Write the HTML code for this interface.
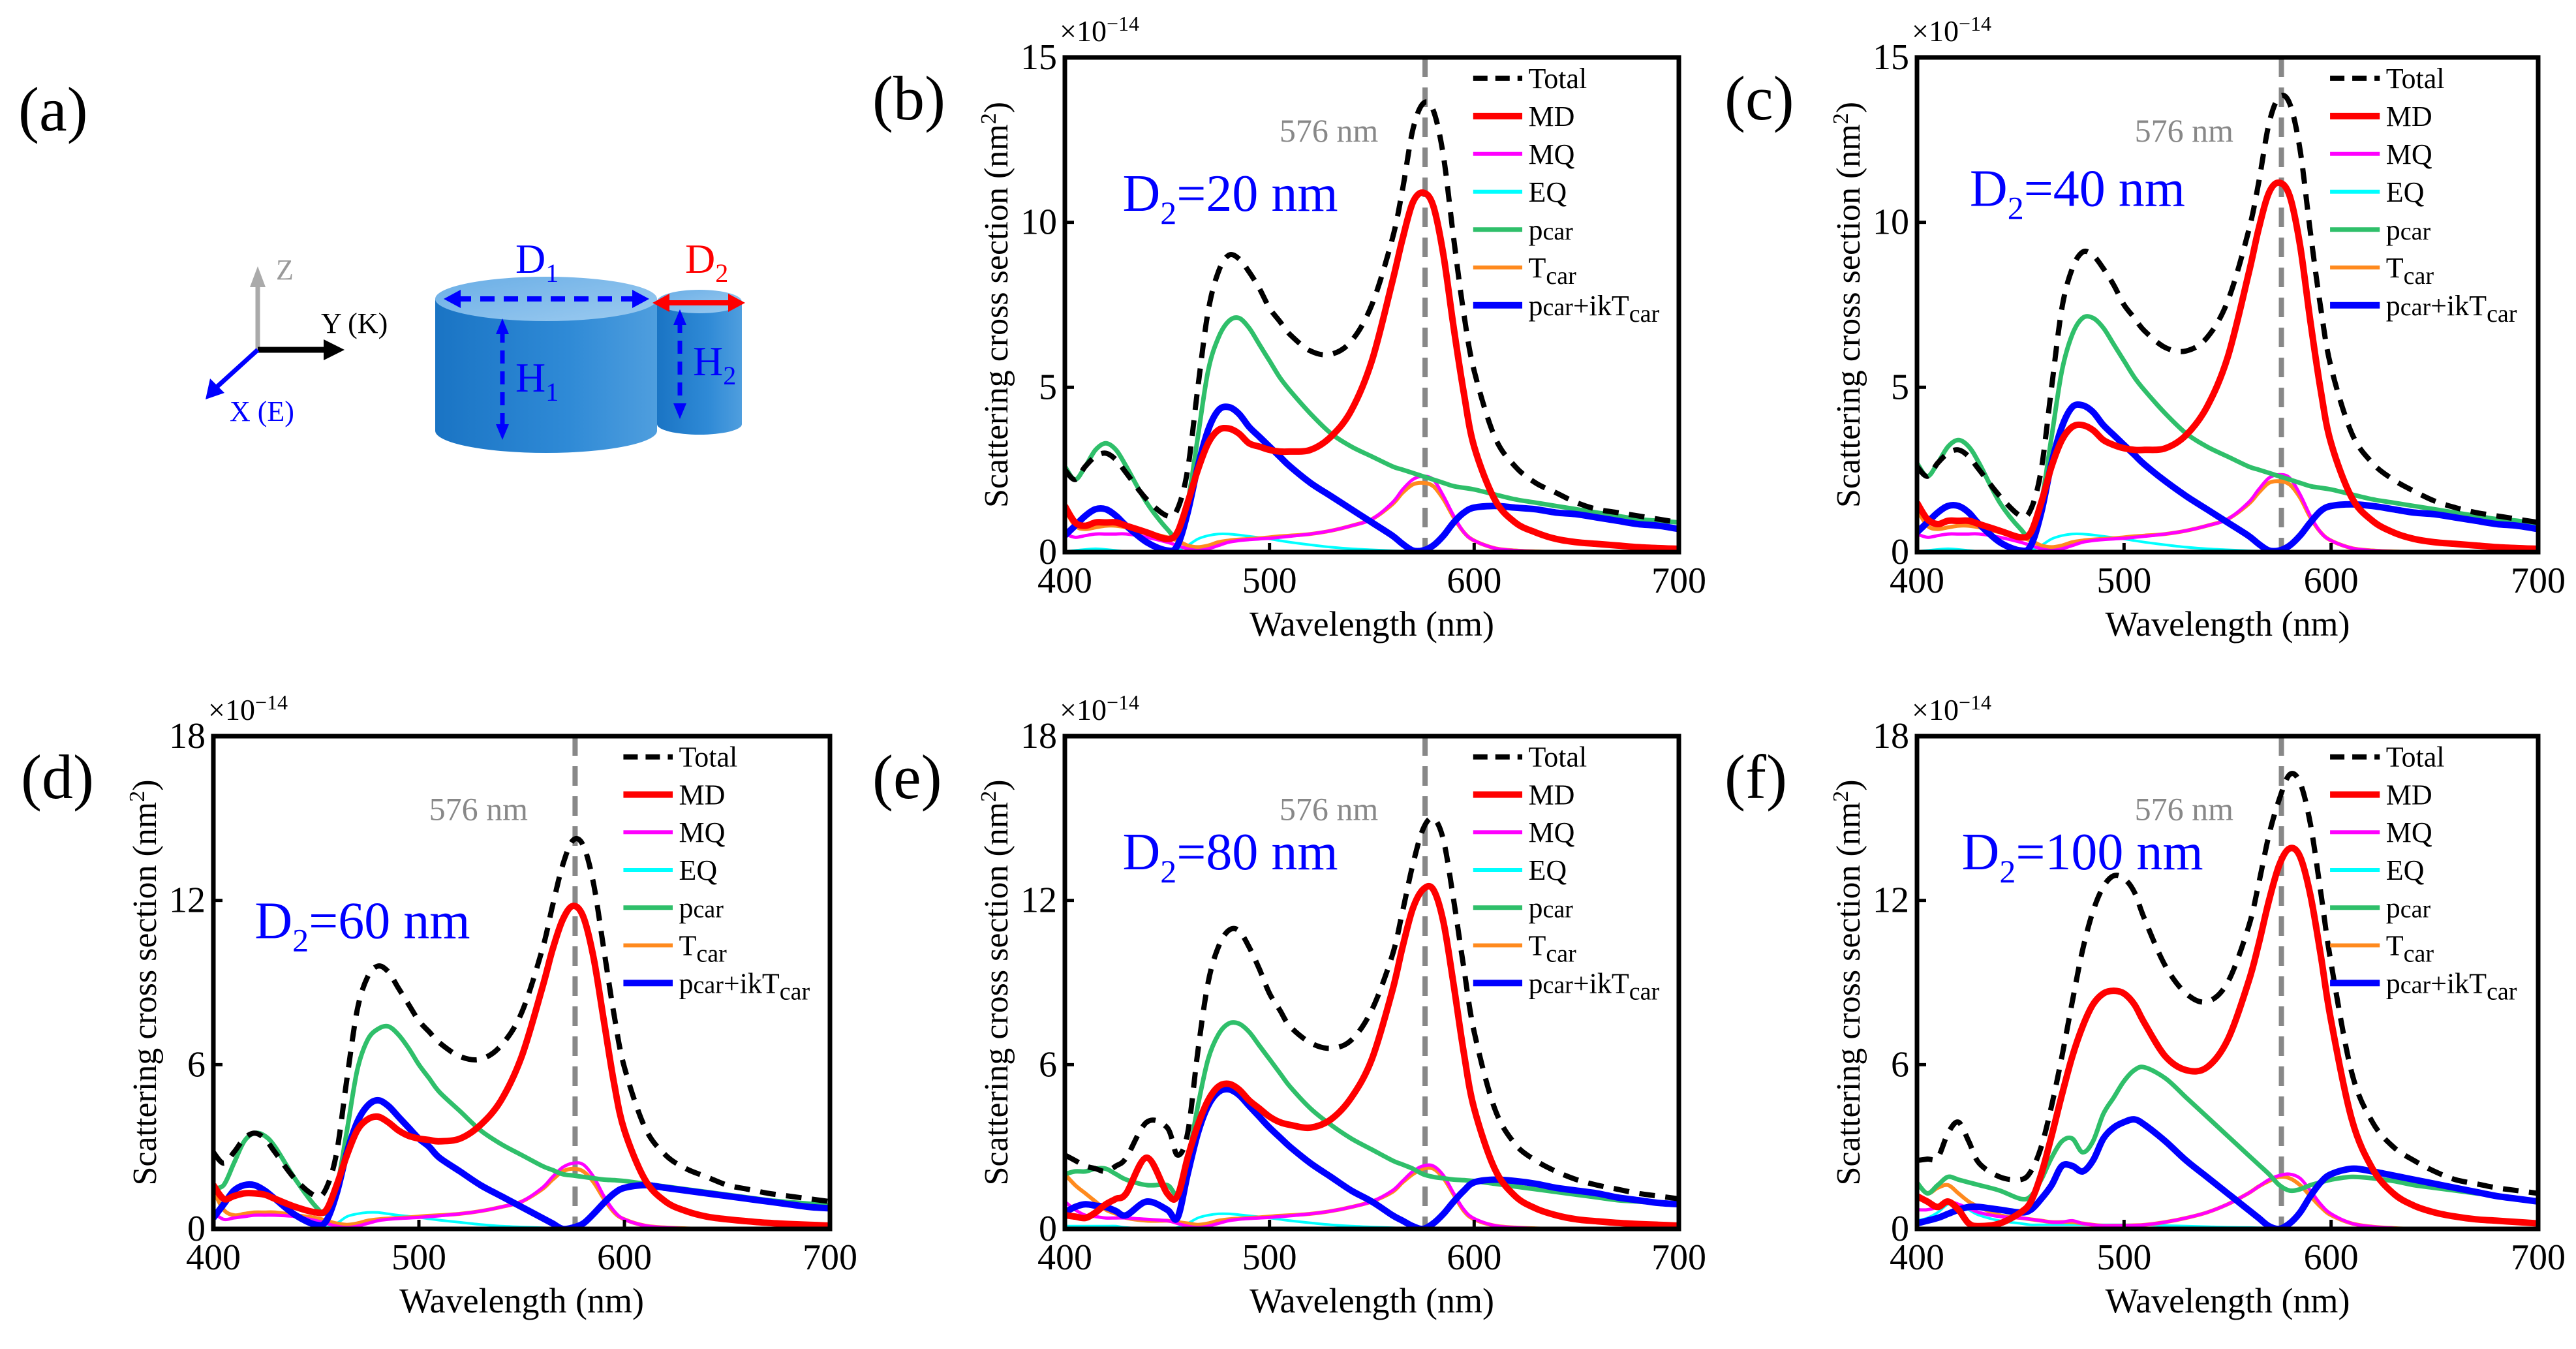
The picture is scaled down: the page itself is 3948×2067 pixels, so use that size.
<!DOCTYPE html>
<html><head><meta charset="utf-8"><style>
html,body{margin:0;padding:0;background:#fff}
svg{display:block}
svg text{font-family:"Liberation Serif","Times New Roman",serif}
</style></head><body>
<svg id="fig" xmlns="http://www.w3.org/2000/svg" width="3948" height="2067" viewBox="0 0 3948 2067" font-family="Liberation Serif, serif">
<defs>
<linearGradient id="cylg" x1="0" x2="1" y1="0" y2="0"><stop offset="0" stop-color="#1a74c4"/><stop offset="0.6" stop-color="#2f8ad6"/><stop offset="1" stop-color="#4f9ede"/></linearGradient>
<linearGradient id="topg" x1="0" x2="1" y1="0" y2="1"><stop offset="0" stop-color="#6aaee6"/><stop offset="1" stop-color="#9ccbf0"/></linearGradient>
</defs>
<g id="panelA">
<text x="28" y="200" font-size="96">(a)</text>
<line x1="395" y1="536" x2="395" y2="430" stroke="#aaa" stroke-width="7"/>
<polygon points="395,408 383,440 407,440" fill="#aaa"/>
<text x="423" y="428" font-size="44" fill="#999">Z</text>
<line x1="395" y1="536" x2="505" y2="536" stroke="#000" stroke-width="9"/>
<polygon points="528,536 496,520 496,552" fill="#000"/>
<text x="492" y="510" font-size="44">Y (K)</text>
<line x1="395" y1="536" x2="330" y2="595" stroke="#0000ff" stroke-width="7"/>
<polygon points="315,612 322,580 344,602" fill="#0000ff"/>
<text x="352" y="645" font-size="44" fill="#0000ff">X (E)</text>
<g>
<path d="M667,458 L667,660 A170,34 0 0 0 1007,660 L1007,458 Z" fill="url(#cylg)"/>
<ellipse cx="837" cy="458" rx="170" ry="34" fill="url(#topg)"/>
</g>
<g>
<path d="M1007,462 L1007,650 A65,16 0 0 0 1137,650 L1137,462 Z" fill="url(#cylg)"/>
<ellipse cx="1072" cy="462" rx="65" ry="18" fill="url(#topg)"/>
</g>
<line x1="700" y1="458" x2="975" y2="458" stroke="#0000ff" stroke-width="8" stroke-dasharray="22,14"/>
<polygon points="680,458 706,444 706,472" fill="#0000ff"/><polygon points="995,458 969,444 969,472" fill="#0000ff"/>
<line x1="1020" y1="464" x2="1125" y2="464" stroke="#ff0000" stroke-width="8"/>
<polygon points="1000,464 1026,450 1026,478" fill="#ff0000"/><polygon points="1142,464 1116,450 1116,478" fill="#ff0000"/>
<text x="790" y="418" font-size="64" fill="#0000ff">D<tspan font-size="40" dy="14">1</tspan></text>
<text x="1050" y="418" font-size="64" fill="#ff0000">D<tspan font-size="40" dy="14">2</tspan></text>
<line x1="770" y1="505" x2="770" y2="655" stroke="#0000ff" stroke-width="7" stroke-dasharray="20,12"/>
<polygon points="770,488 760,512 780,512" fill="#0000ff"/><polygon points="770,674 760,650 780,650" fill="#0000ff"/>
<text x="790" y="600" font-size="64" fill="#0000ff">H<tspan font-size="40" dy="14">1</tspan></text>
<line x1="1042" y1="490" x2="1042" y2="625" stroke="#0000ff" stroke-width="7" stroke-dasharray="20,12"/>
<polygon points="1042,474 1032,498 1052,498" fill="#0000ff"/><polygon points="1042,642 1032,618 1052,618" fill="#0000ff"/>
<text x="1062" y="575" font-size="64" fill="#0000ff">H<tspan font-size="40" dy="14">2</tspan></text>
</g>
</svg>
<script>
const wl=[400,405,410,415,420,425,430,440,450,455,460,465,470,475,480,485,490,495,500,505,510,520,530,540,550,560,565,570,575,580,585,590,595,600,610,620,630,640,650,660,670,680,690,700];
const xTicks=[400,500,600,700];
const yTicksTop=[0,5,10,15];
const yTicksBottom=[0,6,12,18];
const legendLabels=["Total","MD","MQ","EQ","pcar","Tcar","pcar+ikTcar"];

const tot_b=[2.5,2.2,2.6,2.9,3.0,2.8,2.4,1.6,1.1,1.3,2.5,5.0,7.3,8.5,9.0,8.9,8.5,8.0,7.4,7.0,6.6,6.1,6.0,6.4,7.5,9.5,11.0,12.8,13.6,13.4,12.0,9.5,7.2,5.5,3.5,2.6,2.1,1.8,1.5,1.3,1.2,1.1,1.0,0.9];
const md_b=[1.4,0.9,0.8,0.9,0.9,0.9,0.8,0.6,0.4,0.6,1.5,2.5,3.3,3.7,3.75,3.6,3.3,3.2,3.1,3.05,3.05,3.1,3.5,4.3,5.8,8.2,9.5,10.6,10.9,10.5,9.0,6.8,4.8,3.2,1.6,0.9,0.6,0.4,0.3,0.25,0.2,0.15,0.12,0.1];
const mq_b=[0.55,0.45,0.5,0.55,0.55,0.55,0.55,0.45,0.3,0.2,0.1,0.05,0.1,0.2,0.3,0.35,0.38,0.4,0.42,0.45,0.48,0.55,0.65,0.8,1.0,1.5,1.9,2.2,2.3,2.2,1.7,1.1,0.6,0.35,0.12,0.05,0.02,0,0,0,0,0,0,0];
const eq_b=[0.02,0.05,0.08,0.1,0.08,0.05,0.02,0,0,0.05,0.2,0.4,0.5,0.55,0.55,0.52,0.48,0.44,0.4,0.35,0.3,0.22,0.15,0.1,0.07,0.04,0.03,0.02,0.02,0.02,0.02,0.02,0.02,0.02,0.01,0.01,0,0,0,0,0,0,0,0];
const pc_b=[2.6,2.2,2.6,3.1,3.3,3.1,2.6,1.5,0.7,0.5,1.5,3.5,5.5,6.5,7.0,7.1,6.8,6.3,5.8,5.3,4.9,4.2,3.6,3.2,2.9,2.6,2.5,2.4,2.3,2.2,2.1,2.0,1.95,1.9,1.75,1.6,1.5,1.4,1.3,1.2,1.1,1.0,0.95,0.9];
const tc_b=[1.3,0.8,0.7,0.75,0.8,0.8,0.75,0.6,0.45,0.35,0.2,0.15,0.2,0.3,0.35,0.38,0.4,0.42,0.45,0.48,0.5,0.55,0.65,0.8,1.0,1.45,1.8,2.05,2.1,2.0,1.6,1.05,0.6,0.35,0.12,0.05,0.02,0,0,0,0,0,0,0];
const bl_b=[0.5,0.8,1.1,1.3,1.3,1.1,0.8,0.3,0.05,0.2,1.2,2.6,3.7,4.3,4.4,4.2,3.8,3.5,3.2,2.9,2.6,2.1,1.7,1.3,0.9,0.5,0.25,0.05,0.05,0.2,0.5,0.9,1.2,1.35,1.4,1.35,1.3,1.2,1.15,1.05,0.95,0.85,0.8,0.7];

const tot_c=[2.6,2.3,2.7,3.0,3.1,2.9,2.5,1.7,1.1,1.3,2.5,5.0,7.4,8.6,9.1,9.0,8.6,8.1,7.5,7.1,6.7,6.2,6.1,6.5,7.6,9.7,11.2,13.0,13.8,13.6,12.2,9.7,7.4,5.6,3.6,2.7,2.2,1.85,1.55,1.35,1.2,1.1,1.0,0.9];
const md_c=[1.5,1.0,0.85,0.95,0.95,0.95,0.85,0.65,0.45,0.6,1.5,2.6,3.4,3.8,3.85,3.7,3.4,3.25,3.15,3.1,3.1,3.15,3.55,4.4,5.9,8.4,9.8,10.9,11.2,10.8,9.3,7.0,4.9,3.3,1.65,0.95,0.6,0.4,0.3,0.25,0.2,0.15,0.12,0.1];
const mq_c=[0.55,0.45,0.5,0.55,0.55,0.55,0.55,0.45,0.3,0.2,0.1,0.05,0.1,0.2,0.3,0.35,0.38,0.4,0.42,0.45,0.48,0.55,0.65,0.8,1.0,1.5,1.9,2.25,2.35,2.25,1.75,1.1,0.6,0.35,0.12,0.05,0.02,0,0,0,0,0,0,0];
const eq_c=[0.02,0.05,0.08,0.1,0.08,0.05,0.02,0,0,0.05,0.2,0.4,0.5,0.55,0.55,0.52,0.48,0.44,0.4,0.35,0.3,0.22,0.15,0.1,0.07,0.04,0.03,0.02,0.02,0.02,0.02,0.02,0.02,0.02,0.01,0.01,0,0,0,0,0,0,0,0];
const pc_c=[2.7,2.3,2.7,3.2,3.4,3.2,2.7,1.5,0.7,0.5,1.5,3.5,5.5,6.6,7.1,7.1,6.8,6.3,5.8,5.3,4.9,4.2,3.6,3.2,2.9,2.6,2.5,2.4,2.3,2.2,2.1,2.0,1.95,1.9,1.75,1.6,1.5,1.4,1.3,1.2,1.1,1.0,0.95,0.85];
const tc_c=[1.3,0.8,0.7,0.75,0.8,0.8,0.75,0.6,0.45,0.35,0.2,0.15,0.2,0.3,0.35,0.38,0.4,0.42,0.45,0.48,0.5,0.55,0.65,0.8,1.0,1.45,1.8,2.1,2.15,2.05,1.65,1.05,0.6,0.35,0.12,0.05,0.02,0,0,0,0,0,0,0];
const bl_c=[0.6,0.9,1.2,1.4,1.4,1.2,0.85,0.3,0.05,0.2,1.2,2.7,3.8,4.4,4.45,4.25,3.85,3.55,3.25,2.95,2.65,2.15,1.7,1.3,0.9,0.5,0.25,0.05,0.05,0.2,0.5,0.9,1.25,1.4,1.45,1.4,1.3,1.2,1.15,1.05,0.95,0.85,0.8,0.7];

const tot_d=[2.8,2.4,2.8,3.3,3.5,3.3,2.8,1.8,1.2,1.5,2.8,5.5,8.0,9.2,9.6,9.4,8.8,8.2,7.6,7.2,6.8,6.3,6.2,6.7,7.9,10.2,11.8,13.3,14.2,14.0,12.6,10.2,7.8,5.9,3.7,2.7,2.2,1.9,1.6,1.45,1.3,1.2,1.1,1.0];
const md_d=[1.6,1.1,1.2,1.3,1.3,1.25,1.1,0.8,0.6,0.7,1.6,2.7,3.6,4.0,4.1,3.9,3.6,3.4,3.3,3.25,3.2,3.3,3.8,4.7,6.3,8.8,10.2,11.3,11.8,11.4,9.9,7.6,5.3,3.6,1.8,1.0,0.65,0.45,0.35,0.28,0.22,0.18,0.15,0.12];
const mq_d=[0.6,0.35,0.4,0.45,0.5,0.5,0.5,0.45,0.3,0.2,0.1,0.05,0.1,0.2,0.3,0.35,0.38,0.4,0.42,0.45,0.48,0.55,0.65,0.8,1.0,1.5,1.9,2.25,2.4,2.35,1.9,1.2,0.65,0.35,0.12,0.05,0.02,0,0,0,0,0,0,0];
const eq_d=[0,0,0,0,0,0,0,0,0,0.05,0.2,0.45,0.55,0.6,0.6,0.55,0.5,0.46,0.42,0.37,0.32,0.24,0.16,0.1,0.07,0.04,0.03,0.02,0.02,0.02,0.02,0.02,0.02,0.02,0.01,0.01,0,0,0,0,0,0,0,0];
const pc_d=[1.5,1.6,2.4,3.2,3.5,3.4,3.0,1.8,0.8,0.6,1.5,3.6,5.8,6.9,7.3,7.4,7.1,6.6,6.0,5.5,5.0,4.3,3.6,3.1,2.7,2.3,2.15,2.0,1.95,1.9,1.85,1.8,1.78,1.75,1.65,1.55,1.45,1.35,1.25,1.15,1.05,0.98,0.92,0.85];
const tc_d=[1.4,0.7,0.5,0.55,0.6,0.6,0.6,0.5,0.4,0.3,0.2,0.15,0.2,0.3,0.35,0.38,0.4,0.42,0.45,0.48,0.5,0.55,0.65,0.8,1.0,1.45,1.8,2.1,2.2,2.1,1.7,1.1,0.6,0.35,0.12,0.05,0.02,0,0,0,0,0,0,0];
const bl_d=[0.4,0.9,1.4,1.6,1.6,1.4,1.1,0.5,0.15,0.3,1.3,2.8,3.9,4.5,4.7,4.5,4.1,3.7,3.3,3.0,2.6,2.1,1.6,1.2,0.8,0.4,0.2,0.0,0.05,0.2,0.55,0.95,1.3,1.5,1.6,1.5,1.4,1.3,1.2,1.1,1.0,0.9,0.8,0.75];

const tot_e=[2.7,2.5,2.3,2.2,2.1,2.3,2.6,3.9,3.7,2.7,3.5,6.5,9.0,10.3,10.9,10.9,10.3,9.5,8.6,8.0,7.4,6.8,6.6,6.9,8.0,10.0,11.6,13.3,14.6,15.0,14.2,12.0,9.5,7.2,4.4,3.1,2.5,2.1,1.8,1.6,1.45,1.3,1.2,1.1];
const md_e=[0.5,0.45,0.4,0.6,0.9,1.1,1.3,2.6,1.3,1.2,2.6,3.8,4.7,5.2,5.3,5.1,4.7,4.4,4.1,3.9,3.8,3.7,4.0,4.8,6.2,8.7,10.3,11.7,12.4,12.4,11.2,8.9,6.4,4.4,2.2,1.2,0.75,0.5,0.35,0.28,0.22,0.18,0.15,0.12];
const mq_e=[1.0,0.7,0.5,0.45,0.4,0.4,0.4,0.35,0.3,0.2,0.1,0.05,0.1,0.2,0.3,0.35,0.38,0.4,0.42,0.45,0.48,0.55,0.65,0.8,1.0,1.4,1.75,2.1,2.3,2.3,1.95,1.3,0.7,0.38,0.12,0.05,0.02,0,0,0,0,0,0,0];
const eq_e=[0.1,0.1,0.1,0.1,0.1,0.1,0.05,0,0,0.05,0.2,0.4,0.5,0.55,0.55,0.52,0.48,0.44,0.4,0.35,0.3,0.22,0.15,0.1,0.07,0.04,0.03,0.02,0.02,0.02,0.02,0.02,0.02,0.02,0.01,0.01,0,0,0,0,0,0,0,0];
const pc_e=[2.0,2.1,2.1,2.2,2.2,2.0,1.8,1.6,1.6,1.3,2.5,4.5,6.2,7.1,7.5,7.5,7.2,6.7,6.2,5.7,5.2,4.4,3.8,3.3,2.9,2.5,2.35,2.2,2.0,1.9,1.85,1.8,1.78,1.75,1.65,1.55,1.45,1.35,1.25,1.15,1.05,1.0,0.95,0.9];
const tc_e=[2.0,1.6,1.3,1.0,0.7,0.55,0.4,0.3,0.3,0.25,0.2,0.15,0.2,0.3,0.35,0.38,0.4,0.42,0.45,0.48,0.5,0.55,0.65,0.8,1.0,1.35,1.7,2.0,2.2,2.2,1.85,1.25,0.65,0.35,0.12,0.05,0.02,0,0,0,0,0,0,0];
const bl_e=[0.6,0.8,0.9,0.85,0.8,0.65,0.5,1.0,0.7,0.4,2.0,3.5,4.5,5.0,5.1,4.9,4.5,4.1,3.7,3.35,3.0,2.4,1.9,1.4,1.0,0.5,0.3,0.1,0.0,0.2,0.55,1.0,1.4,1.7,1.8,1.75,1.65,1.5,1.4,1.3,1.15,1.05,0.95,0.9];

const tot_f=[2.5,2.55,2.6,3.5,3.9,3.2,2.4,1.9,1.8,2.1,3.0,4.5,6.3,8.3,10.2,11.6,12.5,12.9,12.8,12.3,11.3,9.6,8.6,8.3,9.0,11.0,12.6,14.4,15.7,16.6,16.3,14.8,12.3,9.7,5.7,3.9,3.0,2.5,2.1,1.8,1.65,1.5,1.4,1.3];
const md_f=[1.2,1.0,0.8,1.0,0.7,0.2,0.1,0.2,0.6,1.0,2.0,3.4,4.9,6.3,7.4,8.2,8.6,8.7,8.6,8.2,7.5,6.3,5.8,5.9,6.9,9.0,10.4,12.0,13.3,13.9,13.6,12.2,10.0,7.6,4.0,2.2,1.3,0.85,0.6,0.45,0.35,0.3,0.25,0.2];
const mq_f=[0.7,0.7,0.8,1.0,0.9,0.75,0.6,0.45,0.4,0.35,0.3,0.25,0.25,0.3,0.2,0.15,0.12,0.12,0.12,0.13,0.15,0.25,0.4,0.6,0.9,1.3,1.55,1.8,1.95,2.0,1.85,1.4,0.9,0.55,0.2,0.08,0.03,0,0,0,0,0,0,0];
const eq_f=[0.3,0.4,0.6,0.9,0.9,0.7,0.5,0.3,0.2,0.15,0.15,0.15,0.15,0.15,0.15,0.15,0.15,0.15,0.15,0.15,0.15,0.12,0.1,0.08,0.06,0.05,0.04,0.03,0.03,0.03,0.03,0.03,0.03,0.03,0.02,0.02,0.01,0,0,0,0,0,0,0];
const pc_f=[1.7,1.3,1.6,1.9,1.8,1.7,1.6,1.4,1.1,1.2,1.8,2.6,3.2,3.3,2.8,3.2,4.2,4.8,5.4,5.8,5.9,5.5,4.8,4.1,3.4,2.7,2.35,2.0,1.6,1.4,1.45,1.6,1.7,1.8,1.9,1.85,1.75,1.6,1.5,1.4,1.3,1.2,1.1,1.0];
const tc_f=[1.7,1.3,1.5,1.6,1.3,1.0,0.8,0.5,0.4,0.35,0.3,0.25,0.25,0.25,0.2,0.15,0.12,0.12,0.12,0.13,0.15,0.25,0.4,0.6,0.9,1.3,1.55,1.75,1.9,1.85,1.6,1.2,0.8,0.5,0.2,0.08,0.03,0,0,0,0,0,0,0];
const bl_f=[0.2,0.3,0.4,0.55,0.7,0.8,0.8,0.7,0.6,0.7,1.1,1.6,2.3,2.3,2.1,2.5,3.3,3.7,3.9,4.0,3.8,3.2,2.5,1.9,1.3,0.7,0.4,0.1,0.0,0.2,0.6,1.2,1.7,2.0,2.2,2.1,1.95,1.8,1.65,1.5,1.35,1.2,1.1,1.0];

const NS="http://www.w3.org/2000/svg";
const svg=document.getElementById('fig');
const SERIF='Liberation Serif, Times New Roman, serif';
function mk(tag,attrs,parent){const e=document.createElementNS(NS,tag);for(const k in attrs)e.setAttribute(k,attrs[k]);if(tag==='text')e.setAttribute('font-family',SERIF);(parent||svg).appendChild(e);return e;}
function smoothPath(pts){let d='M'+pts[0][0].toFixed(1)+','+pts[0][1].toFixed(1);
 for(let i=0;i<pts.length-1;i++){const p0=pts[Math.max(0,i-1)],p1=pts[i],p2=pts[i+1],p3=pts[Math.min(pts.length-1,i+2)];
  const c1=[p1[0]+(p2[0]-p0[0])/6,p1[1]+(p2[1]-p0[1])/6],c2=[p2[0]-(p3[0]-p1[0])/6,p2[1]-(p3[1]-p1[1])/6];
  d+=' C'+c1[0].toFixed(1)+','+c1[1].toFixed(1)+' '+c2[0].toFixed(1)+','+c2[1].toFixed(1)+' '+p2[0].toFixed(1)+','+p2[1].toFixed(1);}
 return d;}
const styles=[
 {c:'#000',w:8,dash:'24,16'},{c:'#ff0000',w:10},{c:'#ff00ff',w:5},{c:'#00ffff',w:4},{c:'#2fbf6a',w:7},{c:'#ff8a1e',w:6},{c:'#0000ff',w:10}];
function panel(o){
 const g=mk('g',{});
 
 
 const L=o.x0,R=o.x1,T=o.y0,B=o.y1,ymax=o.yt[o.yt.length-1];
 const X=v=>L+(v-400)/300*(R-L), Y=v=>B-v/ymax*(B-T);
 const lab=mk('text',{x:L-295,y:T+95,'font-size':96},g);lab.textContent='('+o.id+')';
 
 
 const clip=mk('clipPath',{id:'clip'+o.id},g);mk('rect',{x:L,y:T,width:R-L,height:B-T},clip);
 const series=[o.s[0],o.s[1],o.s[2],o.s[3],o.s[4],o.s[5],o.s[6]];
 const order=[3,5,2,4,6,1,0];
 const pg=mk('g',{'clip-path':'url(#clip'+o.id+')'},g);
 const vl=mk('line',{x1:X(576),x2:X(576),y1:T,y2:B,stroke:'#888','stroke-width':8,'stroke-dasharray':'30,16'},pg);
 
 
 order.forEach(i=>{const st=styles[i];const pts=wl.map((w,j)=>[X(w),Y(series[i][j])]);
  const p=mk('path',{d:smoothPath(pts),fill:'none',stroke:st.c,'stroke-width':st.w,'stroke-linejoin':'round'},pg);
  if(st.dash)p.setAttribute('stroke-dasharray',st.dash);
  
  });
 const fr=mk('rect',{x:L,y:T,width:R-L,height:B-T,fill:'none',stroke:'#000','stroke-width':7},g);
 
 
 xTicks.forEach(t=>{mk('line',{x1:X(t),x2:X(t),y1:B,y2:B-14,stroke:'#000','stroke-width':5},g);
  const tx=mk('text',{x:X(t),y:B+62,'font-size':56,'text-anchor':'middle'},g);tx.textContent=t;
  
  });
 o.yt.forEach(t=>{mk('line',{x1:L,x2:L+14,y1:Y(t),y2:Y(t),stroke:'#000','stroke-width':5},g);
  const tx=mk('text',{x:L-12,y:Y(t)+18,'font-size':56,'text-anchor':'end'},g);tx.textContent=t;
  
  });
 const ex=mk('text',{x:L-8,y:T-25,'font-size':46},g);ex.innerHTML='×10<tspan dy="-16" font-size="32">−14</tspan>';
 
 
 const xt=mk('text',{x:(L+R)/2,y:B+128,'font-size':54,'text-anchor':'middle'},g);xt.textContent='Wavelength (nm)';
 
 
 const yt=mk('text',{x:0,y:0,'font-size':52,'text-anchor':'middle',transform:'translate('+(L-88)+','+((T+B)/2)+') rotate(-90)'},g);
 yt.innerHTML='Scattering cross section (nm<tspan dy="-18" font-size="34">2</tspan><tspan dy="18">)</tspan>';
 
 
 const nm=mk('text',{x:L+o.nmx*(R-L),y:T+0.17*(B-T),'font-size':50,fill:'#888','text-anchor':'middle'},g);nm.textContent='576 nm';
 
 
 const dl=mk('text',{x:L+o.dx*(R-L),y:T+o.dy*(B-T),'font-size':80,fill:'#0000ff'},g);
 dl.innerHTML='D<tspan dy="20" font-size="50">2</tspan><tspan dy="-20">='+o.d+' nm</tspan>';
 
 
 const lg=mk('g',{},g);
 
 
 const rowH=0.0765*(B-T), lx0=L+0.665*(R-L), lx1=L+0.745*(R-L), tx0=L+0.755*(R-L);
 legendLabels.forEach((lbl,i)=>{const y=T+0.042*(B-T)+i*rowH;const st=styles[i];
  const en=mk('g',{},lg);
  
  
  const ln=mk('line',{x1:lx0,x2:lx1,y1:y,y2:y,stroke:st.c,'stroke-width':Math.max(st.w,6)},en);
  if(st.dash)ln.setAttribute('stroke-dasharray','22,12');
  const t=mk('text',{x:tx0,y:y+15,'font-size':44},en);
  if(i===4)t.innerHTML='p<tspan font-size="38">car</tspan>';
  else if(i===5)t.innerHTML='T<tspan dy="10" font-size="38">car</tspan>';
  else if(i===6)t.innerHTML='p<tspan font-size="38">car</tspan>+ikT<tspan dy="10" font-size="38">car</tspan>';
  else t.textContent=lbl;});
}
panel({id:'b',x0:1632,x1:2573,y0:88,y1:846,yt:yTicksTop,d:'20',dx:0.094,dy:0.31,nmx:0.43,s:[tot_b,md_b,mq_b,eq_b,pc_b,tc_b,bl_b]});
panel({id:'c',x0:2938,x1:3890,y0:88,y1:846,yt:yTicksTop,d:'40',dx:0.085,dy:0.3,nmx:0.43,s:[tot_c,md_c,mq_c,eq_c,pc_c,tc_c,bl_c]});
panel({id:'d',x0:327,x1:1272,y0:1128,y1:1883,yt:yTicksBottom,d:'60',dx:0.067,dy:0.41,nmx:0.43,s:[tot_d,md_d,mq_d,eq_d,pc_d,tc_d,bl_d]});
panel({id:'e',x0:1632,x1:2573,y0:1128,y1:1883,yt:yTicksBottom,d:'80',dx:0.094,dy:0.27,nmx:0.43,s:[tot_e,md_e,mq_e,eq_e,pc_e,tc_e,bl_e]});
panel({id:'f',x0:2938,x1:3890,y0:1128,y1:1883,yt:yTicksBottom,d:'100',dx:0.072,dy:0.27,nmx:0.43,s:[tot_f,md_f,mq_f,eq_f,pc_f,tc_f,bl_f]});
</script>
</body></html>
